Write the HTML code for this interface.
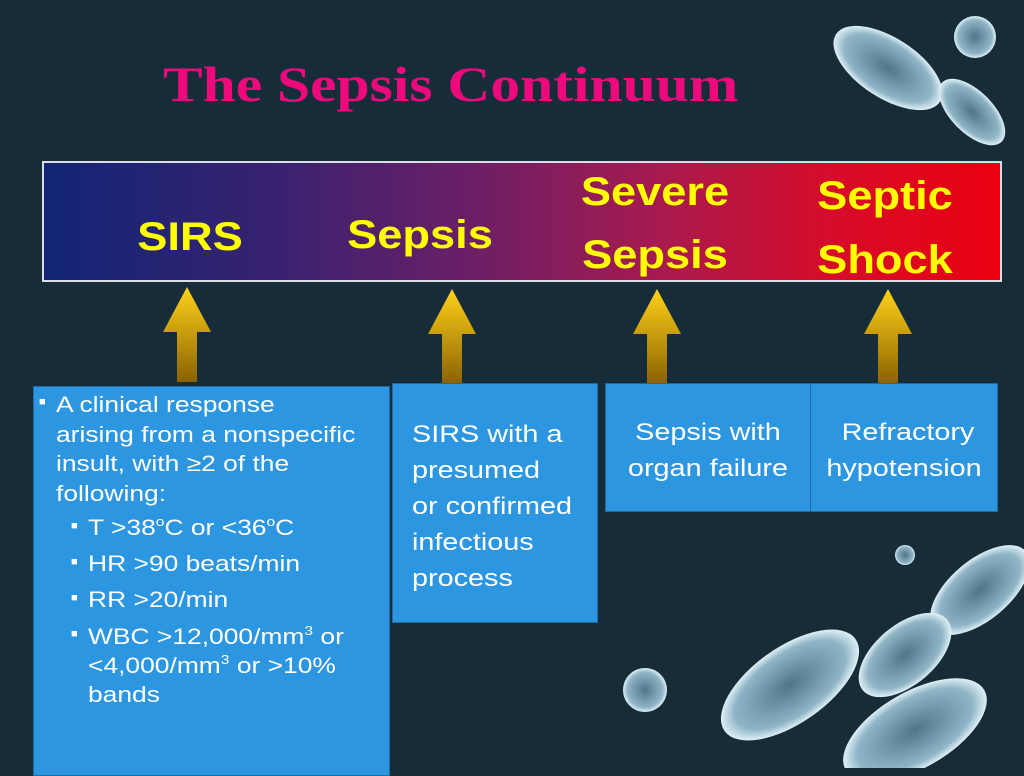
<!DOCTYPE html>
<html><head><style>
body{margin:0;width:1024px;height:768px;background:#172c39;position:relative;overflow:hidden;font-family:"Liberation Sans",sans-serif}
.t{position:absolute;left:163px;top:55px;font-family:"Liberation Serif",serif;font-weight:bold;font-size:50px;color:#ee0a7c;transform:scaleX(1.19);transform-origin:left top;white-space:nowrap}
.bar{position:absolute;left:42px;top:161px;width:956px;height:117px;border:2px solid #d8dde8;background:linear-gradient(to right,#122575 0%,#3a2270 25%,#6c1f66 45%,#a91a4e 65%,#d60c2a 82%,#ea0010 100%)}
.lb{position:absolute;color:#ffff00;font-weight:bold;font-size:40px;text-align:center;line-height:50px;transform:scaleX(1.13)}
.box{position:absolute;background:#2c96e0;border:1px solid #1d6aa8;color:#fff;font-size:24px;line-height:36px;box-sizing:border-box}
.s{transform:scaleX(1.2);transform-origin:left top;white-space:nowrap}
.c{transform:scaleX(1.2);transform-origin:center top;white-space:nowrap}
sup{font-size:13px;line-height:0;vertical-align:9px}
.bl{position:absolute;left:-17px;font-size:11px;top:-2px}
</style></head><body>
<svg width="1024" height="768" style="position:absolute;left:0;top:0">
<defs><linearGradient id="g" x1="0" y1="0" x2="0" y2="1"><stop offset="0" stop-color="#ffd21a"/><stop offset="1" stop-color="#8a6200"/></linearGradient>
<radialGradient id="b" cx="0.5" cy="0.5" r="0.5"><stop offset="0" stop-color="#4f7588"/><stop offset="0.8" stop-color="#8fb5c6"/><stop offset="1" stop-color="#dff0f6"/></radialGradient></defs>
<g fill="url(#b)">
<ellipse cx="888" cy="68" rx="62" ry="30" transform="rotate(33 888 68)"/>
<ellipse cx="972" cy="112" rx="42" ry="21" transform="rotate(45 972 112)"/>
<circle cx="975" cy="37" r="21"/>
<ellipse cx="980" cy="590" rx="60" ry="30" transform="rotate(-40 980 590)"/>
<ellipse cx="790" cy="685" rx="80" ry="38" transform="rotate(-35 790 685)"/>
<ellipse cx="905" cy="655" rx="55" ry="30" transform="rotate(-40 905 655)"/>
<ellipse cx="915" cy="730" rx="80" ry="38" transform="rotate(-30 915 730)"/>
<circle cx="645" cy="690" r="22"/>
<circle cx="905" cy="555" r="10"/>
</g>
<g fill="url(#g)">
<polygon points="187,287 211,332 197,332 197,382 177,382 177,332 163,332"/>
<polygon points="452,289 476,334 462,334 462,384 442,384 442,334 428,334"/>
<polygon points="657,289 681,334 667,334 667,384 647,384 647,334 633,334"/>
<polygon points="888,289 912,334 898,334 898,384 878,384 878,334 864,334"/>
</g>
</svg>
<div class="t">The Sepsis Continuum</div>
<div class="bar"></div>
<div class="lb" style="left:110px;top:212px;width:160px">SIRS</div>
<div class="lb" style="left:330px;top:210px;width:180px">Sepsis</div>
<div class="lb" style="left:570px;top:161px;width:170px;line-height:63px">Severe<br>Sepsis</div>
<div class="lb" style="left:800px;top:164px;width:170px;line-height:64px">Septic<br>Shock</div>
<div class="box" style="left:33px;top:386px;width:357px;height:390px;padding:3px 0 0 22px;font-size:22px;line-height:29.5px">
<div style="position:relative"><span class="bl">■</span><div class="s">A clinical response<br>arising from a nonspecific<br>insult, with ≥2 of the<br>following:</div></div>
<div style="padding-left:32px;position:relative;margin-top:2px;line-height:36px">
<div style="position:relative"><span class="bl">■</span><div class="s">T &gt;38<sup>o</sup>C or &lt;36<sup>o</sup>C</div></div>
<div style="position:relative"><span class="bl">■</span><div class="s">HR &gt;90 beats/min</div></div>
<div style="position:relative"><span class="bl">■</span><div class="s">RR &gt;20/min</div></div>
<div style="position:relative;line-height:29px;margin-top:4px"><span class="bl">■</span><div class="s">WBC &gt;12,000/mm<sup>3</sup> or<br>&lt;4,000/mm<sup>3</sup> or &gt;10%<br>bands</div></div>
</div></div>
<div class="box" style="left:392px;top:383px;width:206px;height:240px;padding:33px 0 0 19px;font-size:24px;line-height:36px"><div class="s">SIRS with a<br>presumed<br>or confirmed<br>infectious<br>process</div></div>
<div class="box" style="left:605px;top:383px;width:206px;height:129px;padding:31px 0 0 0;text-align:center;font-size:24px;line-height:36px"><div class="c">Sepsis with<br>organ failure</div></div>
<div class="box" style="left:810px;top:383px;width:188px;height:129px;padding:31px 0 0 0;text-align:center;font-size:24px;line-height:36px"><div class="c">&nbsp;Refractory<br>hypotension</div></div>
</body></html>
